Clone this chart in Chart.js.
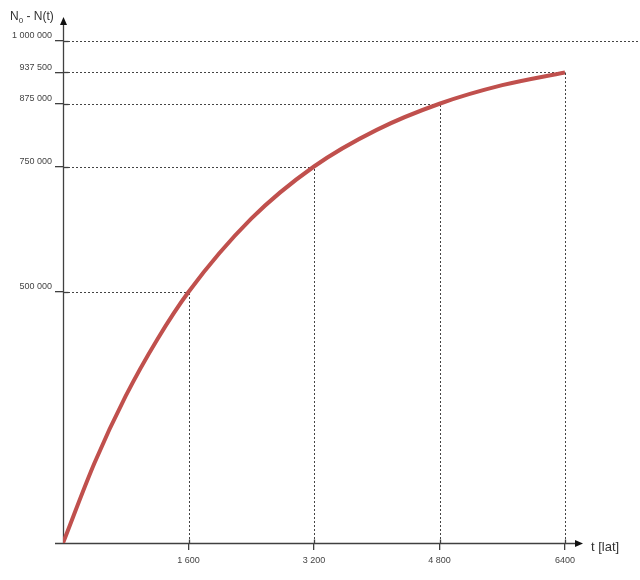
<!DOCTYPE html>
<html>
<head>
<meta charset="utf-8">
<script src="https://cdn.jsdelivr.net/npm/chart.js@4"></script>
<style>
html,body{margin:0;padding:0;background:#fff;}
#wrap{width:640px;height:580px;}
</style>
</head>
<body>
<div id="wrap"><canvas id="c" width="640" height="580"></canvas></div>
<script>
// Data
const tValues = [0, 400, 800, 1200, 1600, 2400, 3200, 4000, 4800, 5600, 6400];
const decayed = [0, 159000, 293000, 405000, 500000, 646000, 750000, 823000, 875000, 912000, 937500];
const xTicks = [1600, 3200, 4800, 6400];
const xTickLabels = ['1 600', '3 200', '4 800', '6400'];
const yTicks = [500000, 750000, 875000, 937500, 1000000];
const yTickLabels = ['500 000', '750 000', '875 000', '937 500', '1 000 000'];
const guideX = [1600, 3200, 4800, 6400];
const guideY = [500000, 750000, 875000, 937500];
const asymptote = 1000000;
const yAxisTitle = ['N', '0', ' - N(t)'];
const xAxisTitle = 't [lat]';

const axisColor = '#404040';
const labelColor = '#444';

const overlay = {
  id: 'overlay',
  beforeDatasetsDraw(chart) {
    const ctx = chart.ctx;
    const xs = chart.scales.x, ys = chart.scales.y;
    const x0 = xs.getPixelForValue(0), y0 = ys.getPixelForValue(0);
    ctx.save();
    // dashed guides
    ctx.strokeStyle = '#444';
    ctx.lineWidth = 1;
    ctx.setLineDash([2, 2]);
    for (let i = 0; i < guideX.length; i++) {
      const px = Math.round(xs.getPixelForValue(guideX[i])) + 0.5;
      const py = Math.round(ys.getPixelForValue(guideY[i])) + 0.5;
      ctx.beginPath(); ctx.moveTo(x0 + 5, py); ctx.lineTo(px, py); ctx.stroke();
      ctx.beginPath(); ctx.moveTo(px, y0 - 4); ctx.lineTo(px, py); ctx.stroke();
    }
    const pa = Math.round(ys.getPixelForValue(asymptote)) + 0.5;
    ctx.beginPath(); ctx.moveTo(x0 + 5, pa); ctx.lineTo(chart.width, pa); ctx.stroke();
    ctx.setLineDash([]);
    // axes
    ctx.strokeStyle = axisColor;
    ctx.lineWidth = 1.3;
    const ax = Math.round(x0) + 0.5, ay = Math.round(y0) + 0.5;
    ctx.beginPath(); ctx.moveTo(ax, ay); ctx.lineTo(ax, 24); ctx.stroke();
    ctx.beginPath(); ctx.moveTo(55, ay); ctx.lineTo(576, ay); ctx.stroke();
    // inward tick parts
    for (const v of yTicks) {
      const py = Math.round(ys.getPixelForValue(v)) + 0.5;
      ctx.beginPath(); ctx.moveTo(ax, py); ctx.lineTo(ax + 5, py); ctx.stroke();
    }
    for (const v of xTicks) {
      const px = Math.round(xs.getPixelForValue(v)) + 0.5;
      ctx.beginPath(); ctx.moveTo(px, ay); ctx.lineTo(px, ay - 4); ctx.stroke();
    }
    // arrow heads
    ctx.fillStyle = '#111';
    ctx.beginPath(); ctx.moveTo(ax, 17); ctx.lineTo(ax - 3.5, 25); ctx.lineTo(ax + 3.5, 25); ctx.closePath(); ctx.fill();
    ctx.beginPath(); ctx.moveTo(583, ay); ctx.lineTo(575, ay - 3.5); ctx.lineTo(575, ay + 3.5); ctx.closePath(); ctx.fill();
    // axis titles
    ctx.fillStyle = '#333';
    ctx.textBaseline = 'alphabetic';
    ctx.textAlign = 'left';
    ctx.font = '12px "Liberation Sans", Arial, sans-serif';
    let tx = 10;
    ctx.fillText(yAxisTitle[0], tx, 20); tx += ctx.measureText(yAxisTitle[0]).width;
    ctx.font = '8px "Liberation Sans", Arial, sans-serif';
    ctx.fillText(yAxisTitle[1], tx, 23); tx += ctx.measureText(yAxisTitle[1]).width;
    ctx.font = '12px "Liberation Sans", Arial, sans-serif';
    ctx.fillText(yAxisTitle[2], tx, 20);
    ctx.font = '13px "Liberation Sans", Arial, sans-serif';
    ctx.textBaseline = 'middle';
    ctx.fillText(xAxisTitle, 591, ay + 4);
    ctx.restore();
  }
};

new Chart(document.getElementById('c'), {
  type: 'line',
  data: {
    datasets: [{
      data: tValues.map((t, i) => ({ x: t, y: decayed[i] })),
      borderColor: '#c0504d',
      borderWidth: 4,
      pointRadius: 0,
      fill: false,
      cubicInterpolationMode: 'monotone',
      borderCapStyle: 'butt'
    }]
  },
  options: {
    responsive: false,
    animation: false,
    events: [],
    layout: { padding: { top: 41, right: 75, left: 0, bottom: 0 } },
    plugins: { legend: { display: false }, tooltip: { enabled: false } },
    scales: {
      x: {
        type: 'linear', min: 0, max: 6400,
        afterBuildTicks: s => { s.ticks = xTicks.map(v => ({ value: v })); },
        afterFit: s => { s.height = 37; },
        ticks: {
          autoSkip: false, maxRotation: 0, padding: 5,
          font: { size: 9, family: '"Liberation Sans", Arial, sans-serif' },
          color: labelColor,
          callback: (v, i) => xTickLabels[i]
        },
        grid: { drawOnChartArea: false, tickLength: 7, color: axisColor, lineWidth: 1.3 },
        border: { display: false }
      },
      y: {
        type: 'linear', min: 0, max: 1000000,
        afterBuildTicks: s => { s.ticks = yTicks.map(v => ({ value: v })); },
        afterFit: s => { s.width = 63; },
        ticks: {
          autoSkip: false, padding: 3, labelOffset: -5,
          font: { size: 9, family: '"Liberation Sans", Arial, sans-serif' },
          color: labelColor,
          callback: (v, i) => yTickLabels[i]
        },
        grid: { drawOnChartArea: false, tickLength: 8, color: axisColor, lineWidth: 1.3 },
        border: { display: false }
      }
    }
  },
  plugins: [overlay]
});
</script>
</body>
</html>
